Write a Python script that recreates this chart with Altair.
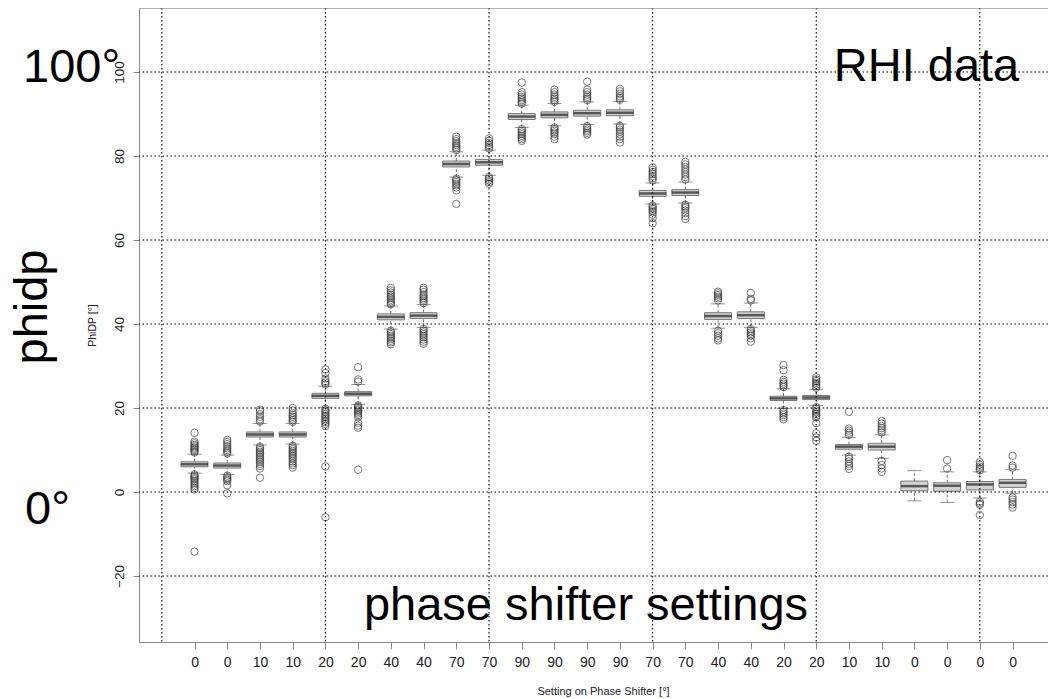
import altair as alt
import pandas as pd

# ---- data ----
settings = ["0", "0", "10", "10", "20", "20", "40", "40", "70", "70", "90", "90", "90",
            "90", "70", "70", "40", "40", "20", "20", "10", "10", "0", "0", "0", "0"]
whisker_low = [4.5, 4.2, 11.2, 11.4, 20.2, 20.9, 38.8, 39.2, 75.0, 75.4, 86.8, 87.2, 87.5,
               87.6, 68.6, 68.8, 39.0, 39.2, 19.9, 20.6, 8.8, 8.0, -2.1, -2.5, -1.4, -0.3]
q1 = [6.0, 5.7, 13.1, 13.1, 22.3, 22.9, 41.0, 41.3, 77.4, 77.8, 88.7, 89.1, 89.5,
      89.6, 70.4, 70.6, 41.1, 41.3, 21.8, 22.0, 10.2, 10.0, 0.3, 0.2, 0.5, 1.1]
median = [6.6, 6.3, 13.7, 13.7, 22.9, 23.4, 41.7, 42.0, 78.1, 78.5, 89.4, 89.8, 90.2,
          90.3, 71.1, 71.3, 41.9, 42.1, 22.3, 22.5, 10.8, 10.8, 1.4, 1.5, 1.8, 2.2]
q3 = [7.2, 6.9, 14.3, 14.3, 23.5, 23.9, 42.4, 42.7, 78.8, 79.2, 90.1, 90.5, 90.9,
      91.0, 71.8, 72.0, 42.7, 42.9, 22.8, 23.0, 11.3, 11.6, 2.6, 2.2, 2.5, 3.0]
whisker_high = [9.0, 8.8, 16.3, 16.3, 25.2, 25.6, 44.3, 44.6, 81.0, 81.4, 92.1, 92.5, 92.9,
                93.0, 73.6, 73.8, 44.8, 45.0, 24.6, 24.4, 13.0, 13.6, 5.1, 4.8, 4.8, 5.3]
outliers = [
    [9.4, 9.7, 10.0, 10.3, 10.6, 10.9, 11.2, 11.6, 12.0, 14.1, 4.2, 3.9, 3.6, 3.3, 3.0, 2.6, 2.2, 1.8, 1.4, 1.0, 0.6, -14.2],
    [9.2, 9.6, 10.0, 10.4, 10.9, 11.4, 11.9, 12.4, 3.9, 3.5, 3.2, 2.9, 2.6, 1.6, -0.3],
    [16.8, 17.3, 17.9, 18.5, 19.2, 19.6, 10.8, 10.4, 10.0, 9.6, 9.2, 8.8, 8.4, 8.0, 7.6, 7.2, 6.7, 6.2, 5.6, 3.4],
    [16.7, 17.1, 17.5, 17.9, 18.3, 18.8, 19.4, 20.0, 11.0, 10.6, 10.2, 9.8, 9.4, 9.0, 8.6, 8.2, 7.8, 7.3, 6.8, 6.4, 5.8],
    [25.6, 26.0, 26.4, 27.0, 28.3, 29.2, 19.8, 19.4, 19.0, 18.6, 18.2, 17.8, 17.4, 17.0, 16.6, 16.2, 15.7, 6.1, -6.0],
    [26.3, 26.8, 29.7, 20.6, 20.3, 20.0, 19.7, 19.4, 19.1, 18.7, 18.3, 17.8, 16.5, 15.8, 15.3, 5.3],
    [44.7, 45.0, 45.4, 45.8, 46.2, 46.6, 47.0, 47.5, 48.0, 48.6, 38.4, 38.0, 37.6, 37.2, 36.8, 36.4, 36.0, 35.6, 35.2],
    [45.0, 45.4, 45.8, 46.2, 46.6, 47.0, 47.6, 48.2, 48.6, 38.8, 38.4, 38.0, 37.6, 37.2, 36.8, 36.3, 35.8, 35.3],
    [81.4, 81.8, 82.2, 82.6, 83.0, 83.5, 84.0, 84.6, 74.6, 74.2, 73.8, 73.4, 73.0, 72.5, 71.8, 68.6],
    [81.8, 82.2, 82.6, 83.1, 83.6, 84.2, 75.0, 74.6, 74.2, 73.8, 73.4],
    [92.5, 92.9, 93.3, 93.7, 94.1, 94.6, 95.2, 97.5, 86.4, 86.0, 85.6, 85.2, 84.8, 84.4, 84.0, 83.6],
    [92.9, 93.3, 93.7, 94.1, 94.6, 95.2, 95.8, 86.8, 86.4, 86.0, 85.6, 85.2, 84.6, 84.0],
    [93.3, 93.7, 94.1, 94.6, 95.2, 95.8, 97.7, 87.1, 86.7, 86.3, 85.9, 85.5, 85.1],
    [93.4, 93.8, 94.2, 94.8, 95.4, 96.0, 87.2, 86.8, 86.3, 85.8, 85.2, 84.6, 84.0, 83.2],
    [74.2, 74.7, 75.2, 75.7, 76.2, 76.7, 77.3, 68.2, 67.8, 67.4, 67.0, 66.6, 66.0, 65.2, 64.0],
    [74.4, 75.0, 75.6, 76.2, 76.8, 77.4, 78.0, 78.6, 68.4, 68.0, 67.6, 67.0, 66.4, 65.7, 65.0],
    [45.6, 46.1, 46.5, 46.9, 47.3, 47.7, 38.4, 37.8, 37.2, 36.6, 36.1],
    [45.6, 46.0, 47.4, 38.8, 38.4, 38.0, 37.6, 37.2, 36.6, 35.8],
    [25.0, 25.4, 25.8, 26.2, 26.7, 29.0, 30.2, 19.5, 19.1, 18.7, 18.3, 17.8, 17.3],
    [24.8, 25.2, 25.6, 26.0, 26.4, 26.8, 27.3, 20.2, 19.8, 19.4, 19.0, 18.6, 18.2, 17.8, 16.4, 14.0, 13.0, 12.2],
    [13.6, 14.1, 14.6, 15.1, 19.1, 8.4, 7.9, 7.3, 6.7, 6.2, 5.5],
    [14.2, 14.7, 15.2, 15.7, 16.3, 16.9, 7.4, 6.4, 5.6, 4.8],
    [],
    [5.6, 7.6],
    [5.2, 5.6, 6.0, 6.5, 7.1, -2.3, -2.7, -3.0, -5.5],
    [5.8, 6.3, 8.6, -1.3, -1.8, -2.4, -3.0, -3.7],
]
x_grid = [0, 5, 10, 15, 20, 25]
y_ticks = [-20, 0, 20, 40, 60, 80, 100]

# ---- tables ----
positions = list(range(1, len(settings) + 1))
boxes = pd.DataFrame({
    "pos": positions, "setting": settings, "lo": whisker_low, "q1": q1,
    "med": median, "q3": q3, "hi": whisker_high,
})
out_df = pd.DataFrame(
    [{"pos": p, "value": v} for p, vals in zip(positions, outliers) for v in vals]
)
xg_df = pd.DataFrame({"g": x_grid})
yg_df = pd.DataFrame({"g": y_ticks})

W, H = 909, 634
FONT = "Liberation Sans"
xscale = alt.Scale(domain=[-0.544, 26.93], nice=False, zero=False)
yscale = alt.Scale(domain=[-35.71, 115.24], nice=False, zero=False)

label_array = "[" + ",".join("'" + s + "'" for s in settings) + "]"

x_axis = alt.Axis(
    values=positions, labelExpr=label_array + "[round(datum.value) - 1]",
    grid=False, tickSize=6.5, tickColor="#888", domainColor="#888",
    labelFontSize=14, labelColor="#222", labelPadding=7, labelFlush=False,
    labelOverlap=False, labelFont=FONT,
    title="Setting on Phase Shifter [°]", titleFont=FONT, titleFontSize=11,
    titleFontWeight="normal", titleColor="#222", titleX=464, titleY=52,
    titleBaseline="alphabetic", titleAlign="center",
)
y_axis = alt.Axis(
    values=y_ticks, grid=False, tickSize=6, tickColor="#888", domainColor="#888",
    labelAngle=270, labelAlign="center", labelBaseline="bottom", labelPadding=7,
    labelFontSize=13.5, labelColor="#222", labelFont=FONT,
    title="PhiDP [°]", titleFont=FONT, titleFontSize=10.5, titleFontWeight="normal",
    titleColor="#222", titleAngle=270, titleX=-46.5, titleY=317,
    titleBaseline="middle", titleAlign="center",
)


def X(field):
    return alt.X(field, scale=xscale, axis=x_axis)


def Y(field):
    return alt.Y(field, scale=yscale, axis=y_axis)


base = alt.Chart(boxes)

whisk_lo = base.mark_rule(color="#777", strokeDash=[3, 2], strokeWidth=1).encode(
    x=X("pos:Q"), y=Y("lo:Q"), y2="q1:Q",
)
whisk_hi = base.mark_rule(color="#777", strokeDash=[3, 2], strokeWidth=1).encode(
    x=X("pos:Q"), y=Y("q3:Q"), y2="hi:Q",
)
cap_lo = base.mark_tick(color="#666", size=14, thickness=1, orient="horizontal").encode(
    x=X("pos:Q"), y=Y("lo:Q"),
)
cap_hi = base.mark_tick(color="#666", size=14, thickness=1, orient="horizontal").encode(
    x=X("pos:Q"), y=Y("hi:Q"),
)
box = base.mark_bar(size=27, color="#d3d3d3", stroke="#777", strokeWidth=1).encode(
    x=X("pos:Q"), y=Y("q1:Q"), y2="q3:Q",
)
med = base.mark_tick(color="#222", size=27, thickness=2.5, orient="horizontal").encode(
    x=X("pos:Q"), y=Y("med:Q"),
)
pts = alt.Chart(out_df).mark_point(
    shape="circle", filled=False, size=55, strokeWidth=1, color="#333", opacity=0.65
).encode(
    x=X("pos:Q"), y=Y("value:Q"),
)

grid_style = dict(color="#000", strokeWidth=1.1, strokeDash=[1.5, 2.5])
xgrid = alt.Chart(xg_df).mark_rule(**grid_style).encode(x=X("g:Q"))
ygrid = alt.Chart(yg_df).mark_rule(**grid_style).encode(y=Y("g:Q"))
top_line = alt.Chart(xg_df.head(1)).mark_rule(color="#888", strokeWidth=1).encode(
    x=alt.value(0), x2=alt.value(W), y=alt.value(0)
)


def note(text, x, y, angle=0, align="left"):
    return alt.Chart(pd.DataFrame({"t": [text]})).mark_text(
        font=FONT, fontSize=47, color="black", align=align,
        baseline="alphabetic", angle=angle,
    ).encode(text="t:N", x=alt.value(x), y=alt.value(y))


notes = [
    note("100°", -116, 74),
    note("0°", -114, 516),
    note("phidp", -92, 299, angle=270, align="center"),
    note("RHI data", 787.5, 73, align="center"),
    note("phase shifter settings", 447, 612, align="center"),
]

chart = alt.layer(
    whisk_lo, whisk_hi, cap_lo, cap_hi, box, med, pts, xgrid, ygrid, top_line, *notes
).properties(
    width=W, height=H, autosize="none",
    padding={"left": 131, "top": 0, "right": 0, "bottom": 57},
).configure_view(stroke=None).configure(font=FONT)

chart.save("out.html", embed_options={"renderer": "svg", "actions": False})
